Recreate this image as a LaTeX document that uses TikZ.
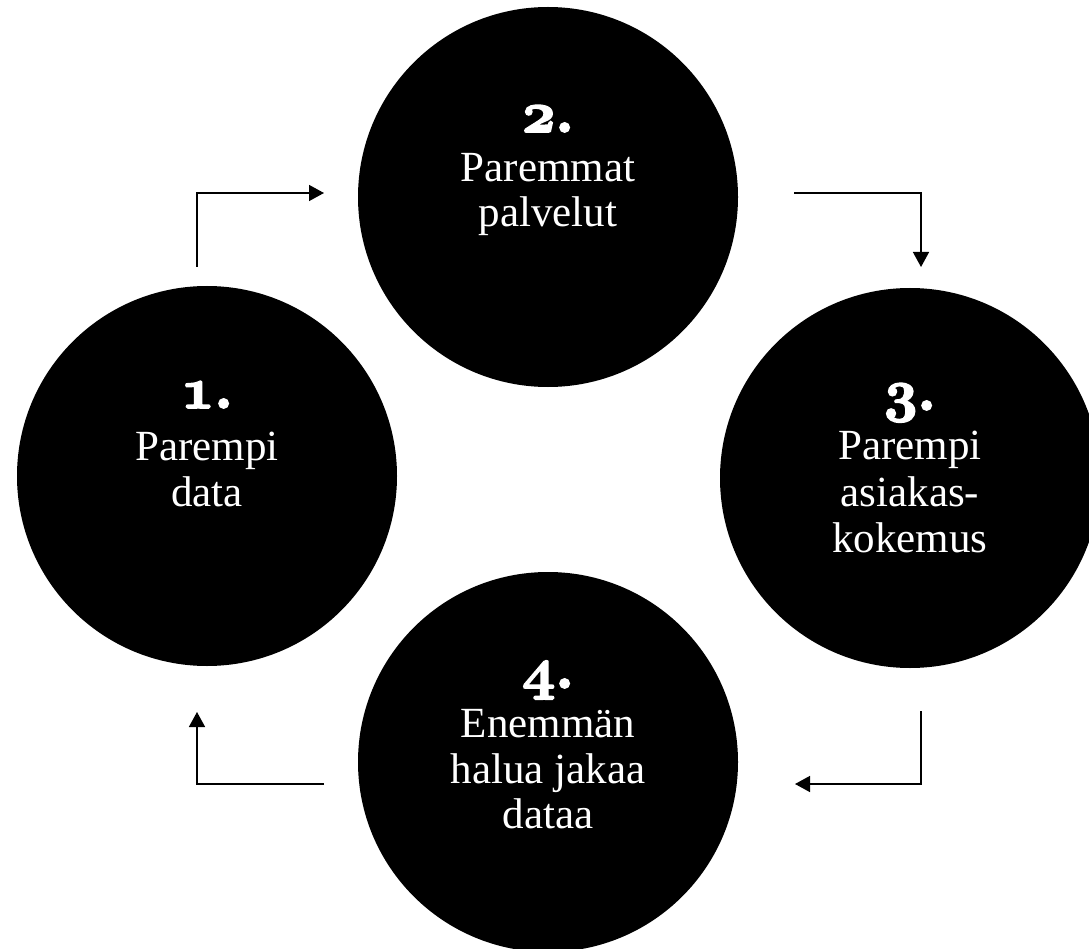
\documentclass[tikz,border=0pt]{standalone}
\usepackage{fontspec}
\setmainfont{Liberation Serif}
\usetikzlibrary{arrows.meta}
\font\numfont=cmmib10 at 58pt
\newcommand{\stepnum}[1]{\special{pdf:literal direct 2 Tr 1.8 w}{\numfont #1\char58}\special{pdf:literal direct 0 Tr}}
\tikzset{
  disc/.style={circle, fill=black, draw=none, minimum size=380pt, inner sep=0pt},
  numtxt/.style={text=white, anchor=base, inner sep=0pt},
  linetxt/.style={text=white, anchor=base, inner sep=0pt, font=\fontsize{43}{46}\selectfont},
  flow/.style={line width=1.5pt, -{Triangle[length=15pt,width=16pt]}}
}
\begin{document}
\begin{tikzpicture}[x=1pt,y=-1pt]
\useasboundingbox (0,0) rectangle (1089,949);
% circles
\node[disc] (c1) at (207,476) {};
\node[disc] (c2) at (548,197) {};
\node[disc] (c3) at (910,478) {};
\node[disc] (c4) at (548,762) {};
% texts circle 1
\node[numtxt] (n1) at (207,408) {\stepnum{1}};
\node[linetxt] (t1a) at (207,460) {Parempi};
\node[linetxt] (t1b) at (207,506) {data};
% circle 2
\node[numtxt] (n2) at (548,132) {\stepnum{2}};
\node[linetxt] (t2a) at (548,182) {Paremmat};
\node[linetxt] (t2b) at (548,227) {palvelut};
% circle 3
\node[numtxt] (n3) at (910,410) {\stepnum{3}};
\node[linetxt] (t3a) at (910,459) {Parempi};
\node[linetxt] (t3b) at (910,506) {asiakas-};
\node[linetxt] (t3c) at (910,552) {kokemus};
% circle 4
\node[numtxt] (n4) at (548,688) {\stepnum{4}};
\node[linetxt] (t4a) at (548,737) {Enemmän};
\node[linetxt] (t4b) at (548,783) {halua jakaa};
\node[linetxt] (t4c) at (548,828) {dataa};
% arrows
\coordinate (a1s) at (197,267);
\coordinate (a1e) at (324,193);
\coordinate (a2s) at (794,193);
\coordinate (a2e) at (921,267);
\coordinate (a3s) at (921,711);
\coordinate (a3e) at (795,784);
\coordinate (a4s) at (324,784);
\coordinate (a4e) at (197,712);
\draw[flow] (a1s) |- (a1e);
\draw[flow] (a2s) -| (a2e);
\draw[flow] (a3s) |- (a3e);
\draw[flow] (a4s) -| (a4e);
\end{tikzpicture}
\end{document}
